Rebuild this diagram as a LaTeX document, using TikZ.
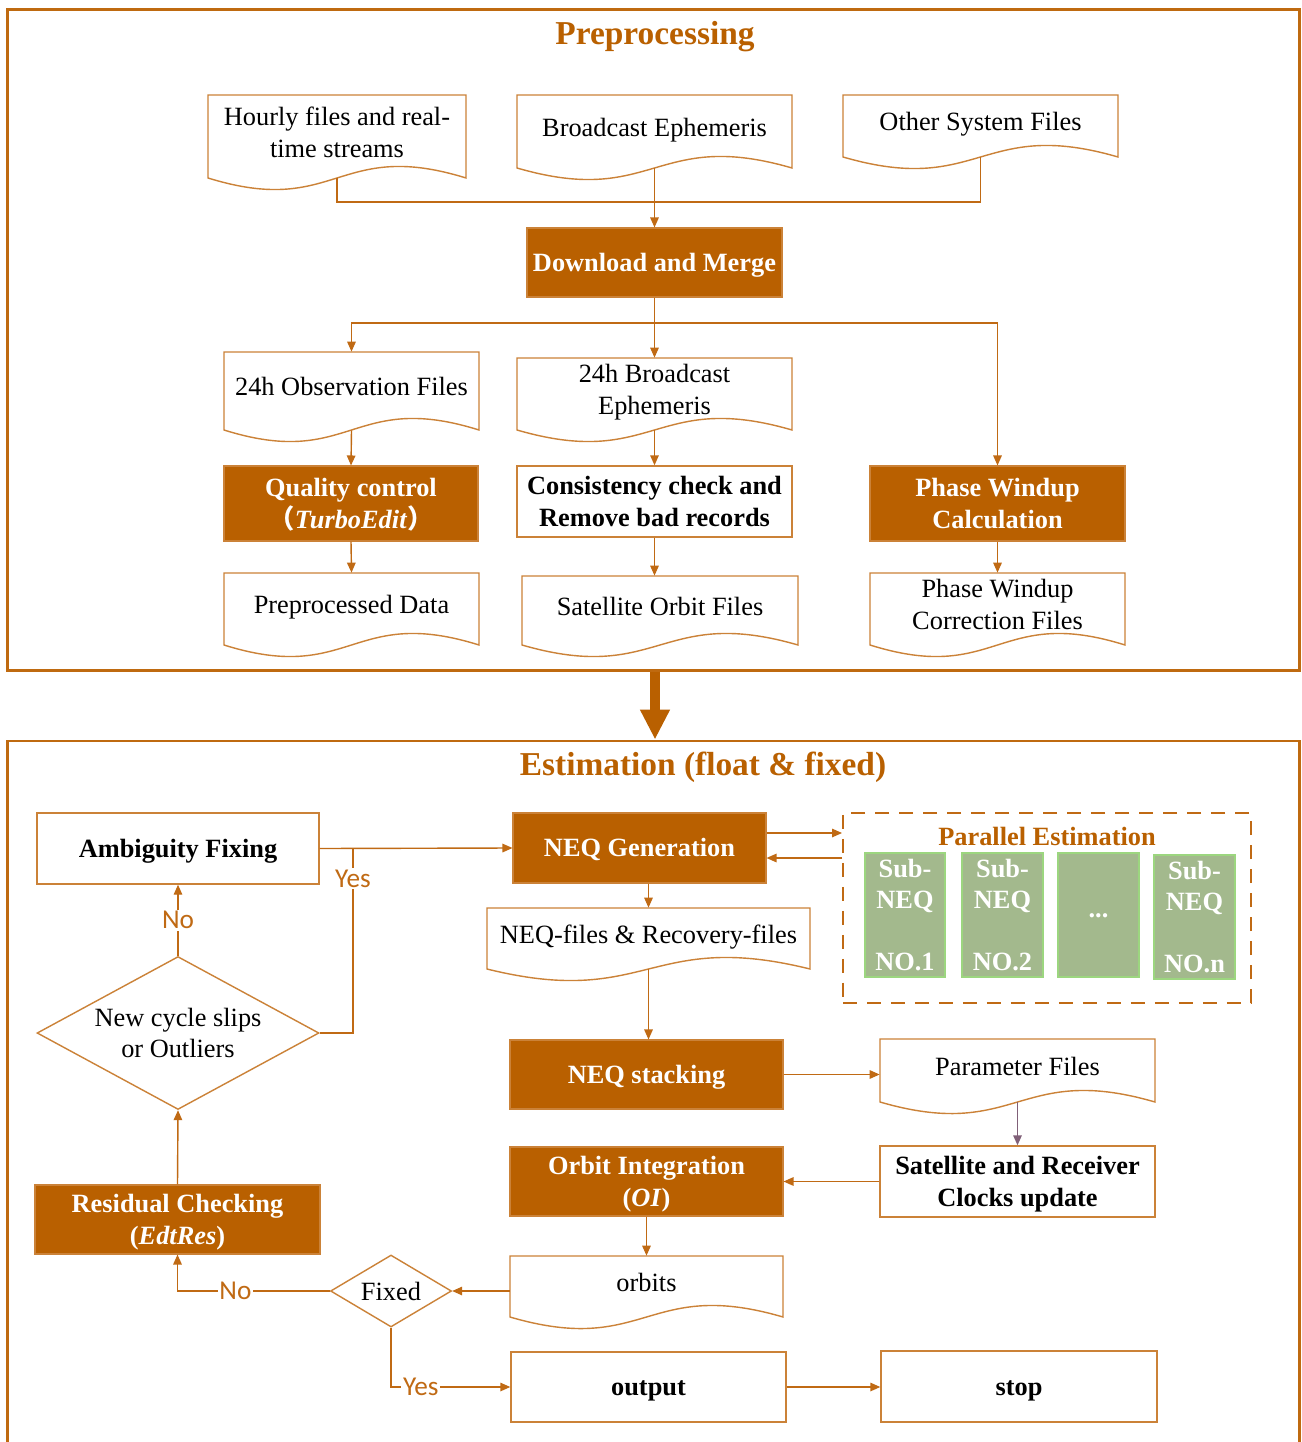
\documentclass[tikz,border=0pt]{standalone}
\usepackage{fontspec}
\setmainfont{Liberation Serif}
\newfontfamily\lblfont{Carlito}
\newfontfamily\cjk{Noto Sans CJK SC}
\usetikzlibrary{arrows.meta,calc,shapes.geometric}
\definecolor{dkor}{HTML}{B96000}
\definecolor{lnor}{HTML}{C06A14}
\definecolor{bdor}{HTML}{CB8238}
\definecolor{frc}{HTML}{BF6A10}
\definecolor{gr}{HTML}{A3B98D}
\definecolor{grb}{HTML}{9CD67F}
\definecolor{pu}{HTML}{806078}
\tikzset{
 txt/.style={font=\fontsize{15}{18}\selectfont, align=center, inner sep=0pt},
 darkbox/.style={txt, rectangle, fill=dkor, draw=bdor, line width=0.6pt, text=white, font=\fontsize{15}{18}\selectfont\bfseries},
 whitebox/.style={txt, rectangle, draw=bdor, line width=0.8pt, fill=white, font=\fontsize{15}{18}\selectfont\bfseries},
 docbox/.style={txt, rectangle},
 docline/.style={draw=bdor, line width=0.8pt, fill=white},
 subbox/.style={txt, rectangle, fill=gr, draw=grb, line width=0.6pt, text=white, font=\fontsize{15}{18}\selectfont\bfseries},
 framebox/.style={rectangle, draw=frc, line width=1.7pt, inner sep=0pt},
 parbox/.style={rectangle, draw=lnor, line width=1.1pt, dash pattern=on 0.28cm off 0.2cm, inner sep=0pt},
 titletxt/.style={font=\fontsize{19}{22}\selectfont\bfseries, text=dkor, inner sep=0pt},
 conn/.style={draw=lnor, line width=0.8pt},
 arr/.style={conn, -{Triangle[length=0.2cm,width=0.17cm]}},
 lbl/.style={font=\lblfont\fontsize{15.5}{18}\selectfont, text=lnor, fill=white, inner sep=1pt},
 dia/.style={txt, diamond, draw=bdor, line width=0.8pt, fill=white},
 lone/.style={text height=10pt, text depth=0pt},
 ltwo/.style={text height=28pt, text depth=0pt},
 done/.style={text height=10pt, text depth=4.6pt},
 dtwo/.style={text height=28pt, text depth=4.6pt},
}
\newcommand\mkbox[7]{%
 \pgfmathsetmacro\cx{(#3+#5)/2}\pgfmathsetmacro\cy{(#4+#6)/2}%
 \pgfmathsetmacro\ww{(#5-#3)*0.02}\pgfmathsetmacro\hh{(#6-#4)*0.02}%
 \node[#1, minimum width=\ww cm, minimum height=\hh cm] (#2) at (\cx,\cy) {#7};}
\newcommand\docshape[7]{%
 \pgfmathsetmacro\cx{(#3+#5)/2}%
 \filldraw[docline] (#3,#4) -- (#5,#4) -- (#5,#6) .. controls (\cx,{#6-40}) and (\cx,{#6+40}) .. (#3,#6) -- cycle;
 \mkbox{docbox,#1}{#2}{#3}{#4}{#5}{#6}{#7}}
\begin{document}
\begin{tikzpicture}[x=0.02cm,y=-0.02cm]
\useasboundingbox (0,0) rectangle (1301,1442);
\fill[white] (0,0) rectangle (1301,1442);
% frames
\mkbox{framebox}{fr1}{8}{10}{1299}{670}{}
\mkbox{framebox}{fr2}{8}{741}{1299}{1446}{}
\node[titletxt] (t1) at (655,37) {Preprocessing};
\node[titletxt] (t2) at (703,767) {Estimation (float \& fixed)};
\coordinate (bx) at (655,0);
\draw[draw=dkor, line width=0.2cm, -{Triangle[length=0.6cm,width=0.56cm]}] (fr1.south -| bx) -- (fr2.north -| bx);
% preprocessing
\docshape{dtwo}{hourly}{208}{95}{466}{178}{Hourly files and real-\\time streams}
\docshape{done}{bcast}{517}{95}{792}{168}{Broadcast Ephemeris}
\docshape{done}{other}{843}{95}{1118}{157}{Other System Files}
\mkbox{darkbox,lone}{dl}{527}{228}{782}{297}{Download and Merge}
\docshape{done}{obs}{224}{352}{479}{430}{24h Observation Files}
\docshape{dtwo}{bc24}{517}{358}{792}{430}{24h Broadcast\\Ephemeris}
\mkbox{darkbox,ltwo}{qc}{224}{466}{478}{541}{Quality control\\{\cjk\bfseries （}\textit{TurboEdit}{\cjk\bfseries ）}}
\mkbox{whitebox,ltwo}{cons}{517}{466}{792}{537}{Consistency check and\\Remove bad records}
\mkbox{darkbox,ltwo}{pwc}{870}{466}{1125}{541}{Phase Windup\\Calculation}
\docshape{done}{pre}{224}{573}{479}{645}{Preprocessed Data}
\docshape{done}{sof}{522}{576}{798}{645}{Satellite Orbit Files}
\docshape{dtwo}{pwcf}{870}{573}{1125}{645}{Phase Windup\\Correction Files}
\coordinate (mY) at (0,202);
\draw[conn] (hourly.south) -- (hourly.south |- mY) -| (other.south);
\draw[arr] (bcast.south) -- (dl.north);
\coordinate (sY) at (0,323);
\draw[conn] (dl.south) -- (dl.south |- sY);
\draw[arr] (dl.south |- sY) -| (obs.north);
\draw[arr] (dl.south |- sY) -| (pwc.north);
\draw[arr] (dl.south) -- (bc24.north);
\draw[arr] (obs.south) -- (qc.north);
\draw[arr] (qc.south) -- (pre.north);
\draw[arr] (bc24.south) -- (cons.north);
\draw[arr] (cons.south) -- (cons.south |- sof.north);
\draw[arr] (pwc.south) -- (pwcf.north);
% estimation
\mkbox{whitebox,lone}{ambig}{37}{813}{319}{884}{Ambiguity Fixing}
\mkbox{darkbox,lone}{neqgen}{513}{813}{766}{883}{NEQ Generation}
\mkbox{parbox}{par}{843}{813}{1251}{1003}{}
\node[font=\fontsize{15}{18}\selectfont\bfseries, text=dkor, inner sep=0pt] (pt) at (1047,836) {Parallel Estimation};
\mkbox{subbox}{s1}{865}{853}{945}{977}{Sub-\\NEQ\\[0.6cm]NO.1}
\mkbox{subbox}{s2}{962}{853}{1043}{977}{Sub-\\NEQ\\[0.6cm]NO.2}
\mkbox{subbox}{s3}{1058}{853}{1139}{977}{\raisebox{-0.12cm}{...}}
\mkbox{subbox}{s4}{1154}{855}{1235}{979}{Sub-\\NEQ\\[0.6cm]NO.n}
\docshape{done}{neqf}{487}{908}{810}{969}{NEQ-files \& Recovery-files}
\mkbox{darkbox,lone}{stack}{510}{1040}{783}{1109}{NEQ stacking}
\docshape{done}{param}{880}{1039}{1155}{1102}{Parameter Files}
\mkbox{whitebox,ltwo}{clk}{880}{1146}{1155}{1217}{Satellite and Receiver\\Clocks update}
\mkbox{darkbox,ltwo}{oi}{510}{1147}{783}{1216}{Orbit Integration\\(\textit{OI})}
\docshape{done}{orbits}{510}{1256}{783}{1317}{orbits}
\node[dia, shape aspect=1.68, minimum width=2.42cm, minimum height=1.44cm] (fixed) at (391,1291) {Fixed};
\node[dia, shape aspect=1.84, minimum width=5.64cm, minimum height=3.06cm] (cyc) at (178,1033) {New cycle slips\\or Outliers};
\mkbox{darkbox,ltwo}{resid}{35}{1185}{320}{1254}{Residual Checking\\(\textit{EdtRes})}
\mkbox{whitebox,lone}{output}{511}{1352}{786}{1422}{output}
\mkbox{whitebox,lone}{stop}{881}{1351}{1157}{1422}{stop}
% estimation connectors
\draw[arr] (ambig.east) -- (neqgen.west);
\coordinate (jn) at (353,849);
\draw[conn] (cyc.east) -| node[lbl, pos=0.92]{Yes} (jn);
\coordinate (o1) at ($(neqgen.east)+(0,-15)$);
\coordinate (o2) at ($(neqgen.east)+(0,10)$);
\draw[arr] (o1) -- (o1 -| par.west);
\draw[arr] (o2 -| par.west) -- (o2);
\draw[arr] (neqgen.south -| neqf.north) -- (neqf.north);
\draw[arr] (neqf.south) -- (neqf.south |- stack.north);
\draw[arr] (stack.east) -- (stack.east -| param.west);
\draw[arr, draw=pu] (param.south) -- (clk.north);
\draw[arr] (clk.west) -- (clk.west -| oi.east);
\draw[arr] (oi.south) -- (orbits.north);
\draw[arr] (fixed.east -| orbits.west) -- (fixed.east);
\draw[arr] (fixed.west) -| node[lbl, pos=0.31]{No} (resid.south);
\draw[arr] (fixed.south) |- node[lbl, pos=0.625]{Yes} (output.west);
\draw[arr] (output.east) -- (output.east -| stop.west);
\draw[arr] (resid.north) -- (cyc.south);
\draw[arr] (cyc.north) -- node[lbl]{No} (ambig.south);
\end{tikzpicture}
\end{document}
